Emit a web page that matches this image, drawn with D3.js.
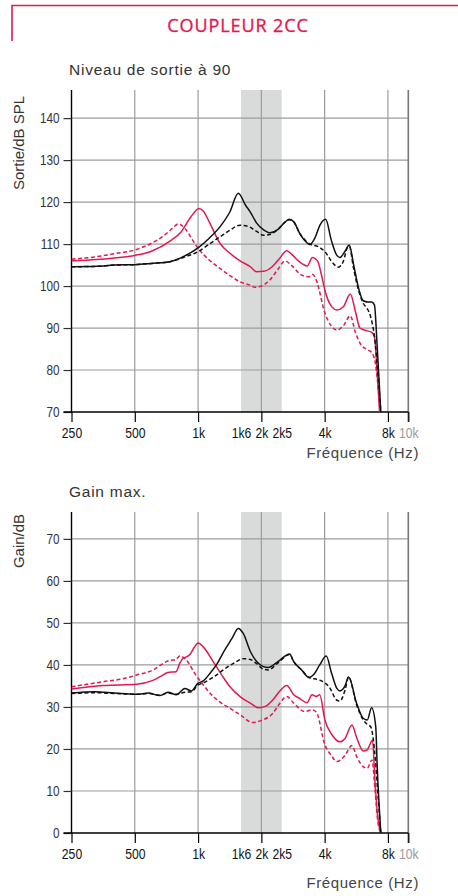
<!DOCTYPE html>
<html><head><meta charset="utf-8">
<script src="https://cdn.jsdelivr.net/npm/d3@7"></script>
<style>
html,body{margin:0;padding:0;background:#fff;}
svg{display:block;}
</style></head>
<body>
<svg id="chart" width="458" height="896"></svg>
<script>
// ---------- DATA ----------
const xTickValues = [250, 500, 1000, 1600, 2000, 2500, 4000, 8000, 10000];
const xTickLabels = ["250", "500", "1k", "1k6", "2k", "2k5", "4k", "8k", "10k"];
const xGridValues = [500, 1000, 2000, 4000, 8000];
const bandRange = [1600, 2500];

const outTicks = [70, 80, 90, 100, 110, 120, 130, 140];
const gainTicks = [0, 10, 20, 30, 40, 50, 60, 70];

// Output level at 90 (top panel)
const outBlackSolidF = [250, 330, 400, 500, 600, 735, 850, 1000, 1130, 1270, 1418, 1553, 1680, 1773, 1900, 2050, 2197, 2400, 2600, 2714, 2850, 3049, 3250, 3405, 3600, 3800, 4045, 4300, 4550, 4730, 5000, 5237, 5500, 5800, 6104, 6400, 6690, 6900, 7114, 7400];
const outBlackSolidV = [104.6, 104.7, 105.0, 105.1, 105.4, 105.8, 107.0, 109.1, 111.4, 114.1, 117.7, 122.1, 119.3, 117.6, 115.0, 113.4, 112.7, 113.5, 115.3, 115.9, 115.3, 112.5, 110.6, 109.9, 111.5, 114.5, 115.9, 111.0, 107.5, 106.8, 108.3, 109.8, 105.0, 99.5, 96.5, 96.2, 96.2, 95.5, 85.5, 70];

const outBlackDashF = [250, 330, 400, 500, 600, 735, 850, 1000, 1130, 1270, 1418, 1584, 1750, 1900, 2044, 2197, 2400, 2600, 2714, 2850, 3049, 3250, 3405, 3731, 4010, 4390, 4642, 4900, 5150, 5237, 5500, 5800, 6104, 6400, 6620, 6900, 7150, 7400];
const outBlackDashV = [104.6, 104.7, 105.0, 105.1, 105.4, 105.8, 106.8, 108.2, 110.0, 111.7, 113.3, 114.5, 114.1, 113.0, 112.1, 112.3, 113.5, 115.3, 115.8, 115.3, 112.5, 110.8, 110.0, 109.4, 108.2, 105.4, 104.5, 105.8, 109.3, 109.5, 104.0, 99.0, 95.9, 94.5, 92.7, 88.0, 80.0, 70];

const outPinkSolidF = [250, 330, 400, 500, 600, 735, 830, 925, 1010, 1058, 1130, 1270, 1418, 1584, 1773, 1900, 2050, 2250, 2450, 2639, 2800, 3000, 3306, 3500, 3700, 3850, 4010, 4318, 4575, 4900, 5300, 5600, 5889, 6200, 6690, 6900, 7100, 7300];
const outPinkSolidV = [106.0, 106.3, 106.7, 107.3, 108.3, 110.7, 112.9, 116.5, 118.5, 117.9, 115.3, 110.2, 107.8, 106.0, 104.6, 103.4, 103.5, 104.6, 106.7, 108.4, 107.5, 106.0, 104.8, 106.8, 106.0, 103.0, 99.0, 95.1, 94.3, 95.0, 98.1, 94.0, 90.0, 89.5, 89.0, 88.0, 80.0, 70];

const outPinkDashF = [250, 330, 400, 500, 600, 700, 760, 805, 880, 940, 1000, 1130, 1270, 1418, 1584, 1773, 1865, 2000, 2200, 2400, 2590, 2800, 3110, 3370, 3500, 3650, 4010, 4300, 4575, 4900, 5300, 5600, 5960, 6300, 6690, 6950, 7150, 7350];
const outPinkDashV = [106.4, 107.0, 107.7, 108.6, 110.2, 112.3, 113.9, 114.8, 113.3, 111.0, 109.0, 106.2, 104.2, 102.5, 101.0, 100.2, 99.7, 100.0, 101.5, 104.0, 106.0, 104.8, 102.6, 102.2, 102.8, 101.4, 93.6, 90.5, 89.5, 90.5, 92.9, 89.0, 86.0, 85.0, 84.2, 82.0, 77.0, 70];

// Max gain (bottom panel)
const gainBlackSolidF = [250, 323, 400, 511, 580, 659, 719, 789, 866, 930, 997, 1058, 1140, 1222, 1330, 1450, 1553, 1640, 1773, 1900, 2044, 2160, 2400, 2727, 2850, 3110, 3370, 3530, 3790, 4070, 4318, 4575, 4730, 5000, 5200, 5677, 6104, 6380, 6690, 7000, 7114, 7400];
const gainBlackSolidV = [33.3, 33.6, 33.3, 33.0, 33.3, 32.7, 33.5, 32.9, 34.4, 33.8, 35.6, 36.2, 38.0, 40.0, 43.3, 46.3, 48.7, 47.5, 43.2, 40.8, 39.6, 39.4, 40.8, 42.6, 40.8, 38.8, 37.0, 37.6, 40.0, 42.1, 38.0, 34.4, 33.8, 35.0, 37.1, 30.9, 27.3, 26.9, 29.8, 25.3, 15.8, 0];

const gainBlackDashF = [250, 323, 400, 511, 580, 659, 719, 789, 866, 930, 997, 1058, 1140, 1222, 1350, 1500, 1640, 1773, 1900, 2044, 2160, 2400, 2727, 2850, 3110, 3370, 3790, 4200, 4575, 4730, 5000, 5200, 5677, 6104, 6400, 6620, 6900, 7150, 7400];
const gainBlackDashV = [33.2, 33.4, 33.2, 33.0, 33.2, 32.8, 33.3, 33.0, 33.5, 33.6, 35.2, 35.7, 36.6, 37.6, 39.2, 40.6, 41.5, 41.3, 40.3, 39.0, 38.8, 40.5, 42.5, 40.8, 38.8, 37.0, 36.4, 34.8, 31.6, 31.4, 34.0, 37.1, 30.5, 26.9, 25.8, 25.3, 20.0, 10.0, 0];

const gainPinkSolidF = [250, 353, 511, 600, 659, 719, 786, 820, 850, 880, 915, 960, 1000, 1058, 1180, 1300, 1418, 1600, 1773, 1940, 2100, 2270, 2450, 2640, 2850, 3050, 3300, 3480, 3650, 3790, 4010, 4318, 4730, 5000, 5390, 5700, 6104, 6380, 6755, 6950, 7150, 7400];
const gainPinkSolidV = [34.3, 35.1, 35.4, 36.2, 37.2, 38.2, 38.4, 40.5, 41.6, 41.9, 42.5, 44.2, 45.2, 44.3, 40.8, 37.5, 34.8, 32.3, 30.9, 29.8, 30.2, 31.7, 33.8, 35.1, 32.9, 32.0, 31.0, 32.9, 32.5, 32.9, 26.9, 23.5, 21.7, 22.5, 25.7, 22.5, 19.5, 19.8, 22.1, 12.0, 4.0, 0];

const gainPinkDashF = [250, 353, 438, 511, 612, 708, 740, 780, 822, 850, 900, 964, 1050, 1180, 1300, 1418, 1600, 1816, 2000, 2270, 2450, 2640, 2850, 3220, 3480, 3650, 4010, 4300, 4575, 5000, 5390, 5700, 6104, 6380, 6720, 6950, 7150, 7400];
const gainPinkDashV = [34.8, 36.0, 36.7, 37.6, 38.8, 40.8, 41.1, 41.2, 42.2, 41.8, 40.5, 38.0, 35.5, 32.5, 30.8, 29.7, 28.0, 26.3, 26.8, 28.5, 30.9, 32.5, 30.9, 28.9, 29.3, 28.8, 21.0, 18.5, 17.0, 18.5, 20.8, 18.0, 15.8, 15.4, 17.4, 10.0, 3.0, 0];

// ---------- DRAWING ----------
const PINK = "#e3184f";
const svg = d3.select("#chart");
const labelFont = "'Liberation Sans', Arial, sans-serif";
const tickFont = "'Liberation Sans', Arial, sans-serif";
const SX = 0.84; // horizontal condensing of tick labels

// Header frame + title
svg.append("path").attr("d", "M12,41 V5.5 H458").attr("fill", "none").attr("stroke", PINK).attr("stroke-width", 1.6);
svg.append("text").attr("x", 238).attr("y", 31.5).attr("text-anchor", "middle")
  .attr("font-family", "'Open Sans', sans-serif").attr("font-size", 18).attr("font-weight", 400)
  .attr("letter-spacing", 0.9).attr("fill", PINK).attr("stroke", PINK).attr("stroke-width", 0.35)
  .text("COUPLEUR 2CC");

const x = d3.scaleLog().base(2).domain([250, 10000]).range([71.5, 408.3]);

function panel(opt) {
  const g = svg.append("g");
  const y = d3.scaleLinear().domain(opt.domain).range([opt.y0, opt.yTop]);
  const yTopPx = opt.yTop;
  const yBot = opt.y0;

  // title
  g.append("text").attr("x", 69).attr("y", opt.titleY).attr("font-family", labelFont)
    .attr("font-size", 15.5).attr("letter-spacing", 0.75).attr("fill", "#333").text(opt.title);

  // band
  g.append("rect").attr("x", x(bandRange[0])).attr("y", yTopPx)
    .attr("width", x(bandRange[1]) - x(bandRange[0])).attr("height", yBot - yTopPx)
    .attr("fill", "#d9dbdb");

  // horizontal grid
  g.selectAll(".hg").data(opt.ticks.slice(1)).enter().append("line")
    .attr("x1", x(250)).attr("x2", x(10000)).attr("y1", d => y(d)).attr("y2", d => y(d))
    .attr("stroke", "#9c9c9c").attr("stroke-width", 1.2);
  // vertical grid
  g.selectAll(".vg").data(xGridValues).enter().append("line")
    .attr("x1", d => x(d)).attr("x2", d => x(d)).attr("y1", yTopPx).attr("y2", yBot)
    .attr("stroke", "#9c9c9c").attr("stroke-width", 1.2);
  // right frame line at 10k
  g.append("line").attr("x1", x(10000)).attr("x2", x(10000)).attr("y1", yTopPx).attr("y2", yBot + 10)
    .attr("stroke", "#777").attr("stroke-width", 1.6);

  // y axis
  const yAxis = d3.axisLeft(y).tickValues(opt.ticks).tickSize(8).tickPadding(4).tickFormat(d3.format("d"));
  const ya = g.append("g").attr("transform", `translate(${x(250)},0)`).call(yAxis);
  ya.select(".domain").attr("d", `M0,${yTopPx}V${yBot}`).attr("stroke", "#000").attr("stroke-width", 1.4);
  ya.selectAll(".tick line").attr("stroke", "#333").attr("stroke-width", 1.2);
  ya.selectAll(".tick text").attr("font-family", tickFont).attr("font-size", 14).attr("fill", "#333")
    .attr("x", -12 / SX).attr("transform", `scale(${SX},1)`);

  // x axis
  const xAxis = d3.axisBottom(x).tickValues(xTickValues).tickSize(10).tickPadding(6)
    .tickFormat((d, i) => xTickLabels[i]);
  const xa = g.append("g").attr("transform", `translate(0,${yBot})`).call(xAxis);
  xa.select(".domain").attr("d", `M${x(250) - 8},0H${x(10000)}`).attr("stroke", "#000").attr("stroke-width", 1.4);
  xa.selectAll(".tick line").attr("stroke", "#000").attr("stroke-width", 1.2)
    .attr("y2", (d) => (d === 1600 || d === 2500) ? 0 : 10);
  xa.selectAll(".tick text").attr("font-family", tickFont).attr("font-size", 14.5)
    .attr("transform", `scale(${SX},1)`)
    .attr("fill", d => d === 10000 ? "#999" : "#111");

  g.append("text").attr("x", 419).attr("y", opt.freqY).attr("text-anchor", "end")
    .attr("font-family", labelFont).attr("font-size", 15).attr("letter-spacing", 0.6)
    .attr("fill", "#444").text("Fréquence (Hz)");

  // y label
  g.append("text").attr("transform", `translate(24,${opt.ylabelY}) rotate(-90)`)
    .attr("text-anchor", "middle").attr("font-family", labelFont).attr("font-size", 15)
    .attr("fill", "#333").text(opt.ylabel);

  // clip
  const cid = "clip" + opt.id;
  svg.append("clipPath").attr("id", cid).append("rect")
    .attr("x", x(250)).attr("y", yTopPx).attr("width", x(10000) - x(250)).attr("height", yBot - yTopPx + 1);

  const line = d3.line().x(d => x(d[0])).y(d => y(d[1])).curve(d3.curveMonotoneX);
  const cg = g.append("g").attr("clip-path", `url(#${cid})`);
  opt.series.forEach(s => {
    const pts = s.f.map((f, i) => [f, s.v[i]]);
    cg.append("path").attr("d", line(pts)).attr("fill", "none")
      .attr("stroke", s.color).attr("stroke-width", 1.5)
      .attr("stroke-dasharray", s.dash ? "4,2.5" : null)
      .attr("stroke-linejoin", "round");
  });
}

panel({
  id: "top", title: "Niveau de sortie à 90", titleY: 75, domain: [70, 146.7], y0: 412, yTop: 90,
  ticks: outTicks, ylabel: "Sortie/dB SPL", ylabelY: 143, freqY: 458,
  series: [
    {f: outPinkDashF, v: outPinkDashV, color: PINK, dash: true},
    {f: outPinkSolidF, v: outPinkSolidV, color: PINK, dash: false},
    {f: outBlackDashF, v: outBlackDashV, color: "#111", dash: true},
    {f: outBlackSolidF, v: outBlackSolidV, color: "#111", dash: false}
  ]
});

panel({
  id: "bot", title: "Gain max.", titleY: 497, domain: [0, 76.4], y0: 833, yTop: 512,
  ticks: gainTicks, ylabel: "Gain/dB", ylabelY: 541, freqY: 888,
  series: [
    {f: gainPinkDashF, v: gainPinkDashV, color: PINK, dash: true},
    {f: gainPinkSolidF, v: gainPinkSolidV, color: PINK, dash: false},
    {f: gainBlackDashF, v: gainBlackDashV, color: "#111", dash: true},
    {f: gainBlackSolidF, v: gainBlackSolidV, color: "#111", dash: false}
  ]
});
</script>
</body></html>
